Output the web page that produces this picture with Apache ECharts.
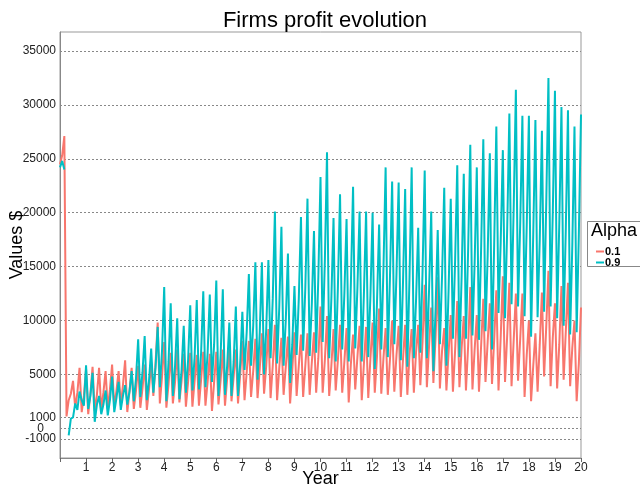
<!DOCTYPE html>
<html>
<head>
<meta charset="utf-8">
<script src="https://cdn.jsdelivr.net/npm/echarts@6/dist/echarts.min.js"></script>
<style>
  html, body { margin: 0; padding: 0; background: #fff; }
  #chart { width: 640px; height: 485px; }
</style>
</head>
<body>
<div id="chart"></div>
<script>
// monthly values, month 0 .. 240 (x = month / 12 years)
// after month 12 every three numbers are one quarter: trough, mid, peak
var alpha01 = [
  24500, 25300, 27100, 1100, 2600, 3200, 4400, 1900, 3300, 5600, 1500, 3000, 5500,
  1300, 3200, 5700,   1600, 3100, 5600,   1700, 3300, 5300,   1800, 3600, 5900,
  1900, 3500, 5300,   2100, 4000, 6300,   1500, 3400, 5600,   1800, 3500, 5800,
  1900, 3700, 5900,   1700, 3600, 6100,   3000, 6000, 9800,   2300, 4800, 8000,
  1900, 4100, 7000,   2300, 4300, 7300,   2400, 4400, 6900,   2000, 4300, 7000,
  2000, 4400, 6800,   2100, 4500, 7100,   2100, 4300, 6900,   1600, 4300, 7100,
  2200, 4500, 7300,   2100, 4600, 7400,   2500, 4800, 7300,   2300, 5000, 8100,
  2600, 5200, 8100,   2900, 5300, 8300,   2800, 5500, 8800,   3200, 5800, 9200,
  2800, 5800, 9600,   2600, 5600, 8400,   3100, 5700, 8500,   2300, 5400, 8900,
  3000, 5800, 8700,   2900, 5800, 8800,   3100, 6100, 8900,   3300, 6500, 11300,
  3300, 6300, 10400,  3000, 5800, 9200,   3500, 6300, 9600,   3300, 6200, 9300,
  2400, 6000, 8700,   3600, 6600, 9500,   2600, 6000, 9400,   2800, 6500, 9800,
  3300, 6600, 11100,  3200, 6500, 9300,   3100, 6400, 10000,  3400, 6800, 9500,
  2900, 6400, 9600,   3100, 6800, 9200,   3300, 7000, 9600,   4000, 8000, 13300,
  3800, 7600, 11200,  4200, 8400, 14000,  3700, 7200, 9300,   3500, 7000, 10500,
  3400, 7200, 11800,  3800, 7400, 10400,  3500, 7600, 13100,  3600, 7300, 10500,
  3400, 7700, 12000,  4300, 8000, 11600,  4100, 8200, 12800,  3500, 8400, 14100,
  4300, 8600, 13500,  3900, 8200, 12500,  4400, 8300, 12500,  2900, 6800, 10000,
  2500, 5800, 8800,   3400, 7800, 12600,  4800, 9500, 14600,  3900, 8400, 11600,
  3700, 7800, 13200,  4500, 9000, 13500,  3900, 7500, 10000,  2500, 6000, 11200
];
var alpha09 = [
  24200, 24800, 24000, null, -650, 900, 1000, 2300, 1700, 3400, 2600, 2100, 5850,
  1800, 3000, 5150,   600, 2200, 3000,    1300, 2200, 3500,   1200, 2600, 4800,
  1500, 2800, 4300,   1700, 3000, 4000,   2200, 3400, 5300,   2500, 4600, 8250,
  2900, 5200, 8550,   2600, 4400, 7400,   3300, 5600, 9400,   3800, 7200, 13100,
  2500, 6200, 11600,  3000, 5800, 10200,  2700, 5400, 9500,   3300, 6300, 11400,
  3500, 6600, 11900,  3600, 7000, 12700,  3800, 7000, 12400,  4300, 7800, 13700,
  3000, 6800, 12900,  3100, 5800, 9800,   3000, 6200, 11300,  3000, 6000, 10800,
  5400, 8900, 14300,  5800, 9500, 15400,  4500, 8800, 15400,  5000, 9200, 15600,
  6500, 12000, 20100, 6000, 11200, 18700, 5800, 10000, 16200, 4200, 7800, 13200,
  6800, 12000, 19600, 7200, 13000, 21300, 6700, 11500, 18300, 7000, 14000, 23300,
  8000, 15500, 25600, 6500, 12000, 19500, 6200, 13000, 21700, 7300, 12500, 19400,
  6200, 13500, 22400, 7400, 13000, 20100, 6200, 12500, 20100, 6600, 12300, 20000,
  5500, 11500, 18900, 7300, 14800, 24200, 6600, 14000, 22900, 7800, 14300, 22800,
  6300, 13500, 22200, 5700, 14000, 24200, 6500, 11800, 18600, 7000, 14500, 23900,
  6500, 12800, 20100, 5300, 11000, 18400, 7800, 14200, 22300, 5800, 12800, 21300,
  8300, 15500, 24400, 6600, 14000, 23600, 8300, 16500, 26300, 8600, 15300, 24200,
  8200, 16800, 26800, 9000, 16000, 25500, 7300, 17000, 28000, 10700, 17200, 25800,
  10200, 18500, 29200, 11500, 20500, 31400, 11300, 19000, 29000, 10400, 18800, 29000,
  8500, 18000, 28600, 10300, 17500, 27600, 10800, 21000, 32500, 11300, 20000, 31300,
  10200, 19000, 29800, 9500, 18500, 29500, 8700, 17000, 28000, 8900, 18000, 29100
];
var seriesNames = ['0.1', '0.9'];
var seriesColors = ['#F8766D', '#00BFC4'];
var yTicks = [-1000, 0, 1000, 5000, 10000, 15000, 20000, 25000, 30000, 35000];
var yMin = -2760, yMax = 36760;

function toPoints(values) {
  return values.map(function (v, i) { return [i / 12, v]; });
}

var chart = echarts.init(document.getElementById('chart'));
var labelStyle = {
  fontSize: 12, color: '#222', margin: 4,
  showMinLabel: true, showMaxLabel: true, hideOverlap: false,
  formatter: function (v) { return String(v); }
};
var option = {
  animation: false,
  textStyle: { fontFamily: 'Liberation Sans, Arial, sans-serif' },
  title: {
    text: 'Firms profit evolution',
    left: 320,
    textAlign: 'center',
    top: 5,
    textStyle: { fontSize: 22, fontWeight: 'normal', color: '#000' }
  },
  grid: {
    left: 60, right: 59, top: 32, bottom: 27,
    show: true, borderColor: '#999', borderWidth: 1,
    outerBoundsMode: 'none'
  },
  legend: {
    orient: 'vertical',
    left: 591,
    top: 241,
    itemWidth: 8,
    itemHeight: 2,
    itemGap: 0,
    icon: 'rect',
    data: seriesNames,
    textStyle: { fontSize: 11, fontWeight: 'bold', color: '#000', padding: [0, 0, 0, -4] }
  },
  graphic: [
    {
      type: 'rect', left: 587, top: 221, z: -1,
      shape: { width: 60, height: 45 },
      style: { fill: '#fff', stroke: '#888', lineWidth: 1 }
    },
    {
      type: 'text', left: 591, top: 222,
      style: { text: 'Alpha', fontSize: 18, fill: '#000', fontFamily: 'Liberation Sans, Arial, sans-serif' }
    }
  ],
  xAxis: {
    type: 'value',
    min: 0, max: 20, interval: 1,
    name: 'Year', nameLocation: 'middle', nameGap: 12, nameMoveOverlap: false,
    nameTextStyle: { fontSize: 18, color: '#000' },
    axisLine: { show: true, onZero: false, lineStyle: { color: '#888', width: 1 } },
    axisTick: { show: true, length: 4, lineStyle: { color: '#666' } },
    axisLabel: {
      fontSize: 12, color: '#222', margin: 4,
      showMinLabel: true, showMaxLabel: true, hideOverlap: false,
      formatter: function (v) { return v === 0 ? '' : String(v); }
    },
    splitLine: { show: false }
  },
  yAxis: [
    {
      type: 'value',
      min: yMin, max: yMax,
      name: 'Values $', nameLocation: 'middle', nameGap: 34, nameMoveOverlap: false,
      nameTextStyle: { fontSize: 18, color: '#000' },
      axisLine: { show: true, onZero: false, lineStyle: { color: '#888', width: 1 } },
      axisTick: { show: false, customValues: yTicks },
      axisLabel: Object.assign({ customValues: yTicks }, labelStyle),
      splitLine: { show: true, lineStyle: { color: '#888', type: [2, 2], width: 1 } }
    },
    {
      // overlay axis that only carries the "0" label
      type: 'value', position: 'left',
      min: yMin, max: yMax,
      axisLine: { show: false, onZero: false },
      axisTick: { show: false, customValues: [0] },
      axisLabel: Object.assign({}, labelStyle, { customValues: [0], margin: 16 }),
      splitLine: { show: false }
    }
  ],
  series: [
    {
      name: seriesNames[0], type: 'line', data: toPoints(alpha01),
      showSymbol: false, connectNulls: false,
      lineStyle: { color: seriesColors[0], width: 2 },
      itemStyle: { color: seriesColors[0] }
    },
    {
      name: seriesNames[1], type: 'line', data: toPoints(alpha09),
      showSymbol: false, connectNulls: false,
      lineStyle: { color: seriesColors[1], width: 2 },
      itemStyle: { color: seriesColors[1] }
    }
  ]
};
chart.setOption(option);
window.addEventListener('resize', function () {
  chart.resize();
});
</script>
</body>
</html>
